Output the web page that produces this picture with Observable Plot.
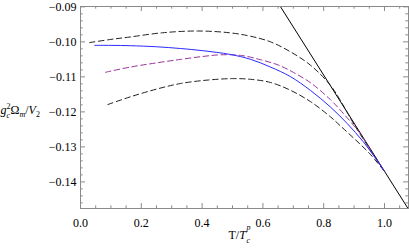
<!DOCTYPE html>
<html>
<head>
<meta charset="utf-8">
<script src="https://cdn.jsdelivr.net/npm/d3@7"></script>
<script src="https://cdn.jsdelivr.net/npm/@observablehq/plot@0.6"></script>
<style>
  html, body { margin: 0; padding: 0; background: white; }
</style>
</head>
<body>
<div id="chart"></div>
<script>
// ---- data ----
// straight (tangent) line through two points
const lineT = [0.6, 1.1];
const lineV = [-0.0820, -0.1507];

// upper black dashed curve
const upperT = [0.03, 0.1, 0.164, 0.27, 0.385, 0.49, 0.56, 0.625, 0.69, 0.757, 0.822, 0.862, 0.9, 0.95, 1.0];
const upperV = [-0.1002, -0.0993, -0.0986, -0.0974, -0.0969, -0.0974, -0.0984, -0.1000, -0.1028, -0.1067, -0.1124, -0.1178, -0.1236, -0.1304, -0.1370];

// purple dashed curve
const purpleT = [0.082, 0.164, 0.25, 0.33, 0.4, 0.46, 0.53, 0.592, 0.65, 0.7, 0.757, 0.822, 0.865, 0.92, 0.96, 1.0];
const purpleV = [-0.1087, -0.1072, -0.1060, -0.1050, -0.1042, -0.1037, -0.1039, -0.1051, -0.1066, -0.1087, -0.1117, -0.1165, -0.1205, -0.1262, -0.1318, -0.1370];

// blue solid curve
const blueT = [0.047, 0.1, 0.164, 0.25, 0.329, 0.4, 0.493, 0.56, 0.625, 0.69, 0.757, 0.822, 0.877, 0.93, 0.97, 1.0];
const blueV = [-0.1010, -0.1010, -0.1011, -0.1014, -0.1019, -0.1025, -0.1036, -0.1050, -0.1072, -0.1099, -0.1139, -0.1186, -0.1233, -0.1285, -0.1332, -0.1370];

// lower black dashed curve
const lowerT = [0.09, 0.164, 0.25, 0.329, 0.42, 0.5, 0.56, 0.625, 0.69, 0.757, 0.822, 0.855, 0.9, 0.95, 1.0];
const lowerV = [-0.1179, -0.1157, -0.1135, -0.1119, -0.1109, -0.1105, -0.1107, -0.1116, -0.1138, -0.1171, -0.1214, -0.1240, -0.1276, -0.1318, -0.1370];

// tick labels
const xTicks = [0.0, 0.2, 0.4, 0.6, 0.8, 1.0];
const yTicks = [-0.14, -0.13, -0.12, -0.11, -0.10, -0.09];

// ---- build tables ----
const toRows = (T, V) => T.map((t, i) => ({T: t, v: V[i]}));
const lineData = toRows(lineT, lineV);
const upper = toRows(upperT, upperV);
const purple = toRows(purpleT, purpleV);
const blue = toRows(blueT, blueV);
const lower = toRows(lowerT, lowerV);

const xMinor = d3.range(0, 1.0751, 0.05).filter(v => !xTicks.some(t => Math.abs(t - v) < 1e-6));
const yMinor = d3.range(-0.146, -0.0899, 0.002).filter(v => !yTicks.some(t => Math.abs(t - v) < 1e-6));

const W = 409, H = 251, ML = 80, MR = 1, MT = 6, MB = 43;
const PW = W - ML - MR, PH = H - MT - MB;
const frameColor = "#8a8a8a";
const majorLen = 5, minorLen = 2.7;
const dash = "5.5,3.5";
const ff = "'Liberation Serif', 'DejaVu Serif', serif";

const chart = Plot.plot({
  width: W, height: H,
  marginLeft: ML, marginRight: MR, marginTop: MT, marginBottom: MB,
  style: `font-family: ${ff}; font-size: 12px; background: white; color: black;`,
  x: {domain: [0, 1.079], label: null},
  y: {domain: [-0.1476, -0.0899], label: null},
  marks: [
    Plot.line(lineData, {x: "T", y: "v", stroke: "black", strokeWidth: 1, clip: true}),
    Plot.line(upper, {x: "T", y: "v", stroke: "#222", strokeWidth: 1, strokeDasharray: dash, curve: "catmull-rom"}),
    Plot.line(lower, {x: "T", y: "v", stroke: "#222", strokeWidth: 1, strokeDasharray: dash, curve: "catmull-rom"}),
    Plot.line(purple, {x: "T", y: "v", stroke: "#993399", strokeWidth: 1, strokeDasharray: dash, curve: "catmull-rom"}),
    Plot.line(blue, {x: "T", y: "v", stroke: "#2a2aff", strokeWidth: 1, curve: "catmull-rom"}),
    Plot.frame({stroke: frameColor, strokeWidth: 1}),
    // bottom ticks
    Plot.tickX(xTicks, {x: d => d, insetTop: PH - majorLen, stroke: frameColor}),
    Plot.tickX(xMinor, {x: d => d, insetTop: PH - minorLen, stroke: frameColor}),
    // top ticks
    Plot.tickX(xTicks, {x: d => d, insetBottom: PH - majorLen, stroke: frameColor}),
    Plot.tickX(xMinor, {x: d => d, insetBottom: PH - minorLen, stroke: frameColor}),
    // left ticks
    Plot.tickY(yTicks, {y: d => d, insetRight: PW - majorLen, stroke: frameColor}),
    Plot.tickY(yMinor, {y: d => d, insetRight: PW - minorLen, stroke: frameColor}),
    // right ticks
    Plot.tickY(yTicks, {y: d => d, insetLeft: PW - majorLen, stroke: frameColor}),
    Plot.tickY(yMinor, {y: d => d, insetLeft: PW - minorLen, stroke: frameColor}),
    Plot.axisX(xTicks, {tickSize: 0, tickPadding: 9.5, tickFormat: d3.format(".1f"), label: null, fontSize: 12}),
    Plot.axisY(yTicks, {tickSize: 0, tickPadding: 4, tickFormat: d3.format(".2f"), label: null, fontSize: 12})
  ]
});

document.getElementById("chart").appendChild(chart);

// axis labels with sub/superscripts
const svg = d3.select(chart);

const yl = svg.append("text").attr("font-family", ff).attr("font-size", 12).attr("fill", "black").attr("text-anchor", "start");
yl.append("tspan").attr("x", 0.5).attr("y", 114).attr("font-style", "italic").text("g");
yl.append("tspan").attr("x", 6.5).attr("y", 108.5).attr("font-size", 8).text("2");
yl.append("tspan").attr("x", 6.5).attr("y", 117.5).attr("font-size", 8).attr("font-style", "italic").text("c");
yl.append("tspan").attr("x", 10.5).attr("y", 114).text("Ω");
yl.append("tspan").attr("y", 117).attr("font-size", 8).attr("font-style", "italic").text("m");
yl.append("tspan").attr("y", 114).text("/");
yl.append("tspan").attr("y", 114).attr("font-style", "italic").text("V");
yl.append("tspan").attr("y", 117).attr("font-size", 8).text("2");

const xl = svg.append("text").attr("font-family", ff).attr("font-size", 12).attr("fill", "black").attr("text-anchor", "start");
xl.append("tspan").attr("x", 228.5).attr("y", 239).text("T/");
xl.append("tspan").attr("y", 239).attr("font-style", "italic").text("T");
xl.append("tspan").attr("x", 246.5).attr("y", 229.5).attr("font-size", 8).attr("font-style", "italic").text("p");
xl.append("tspan").attr("x", 246.5).attr("y", 243).attr("font-size", 8).attr("font-style", "italic").text("c");
</script>
</body>
</html>
